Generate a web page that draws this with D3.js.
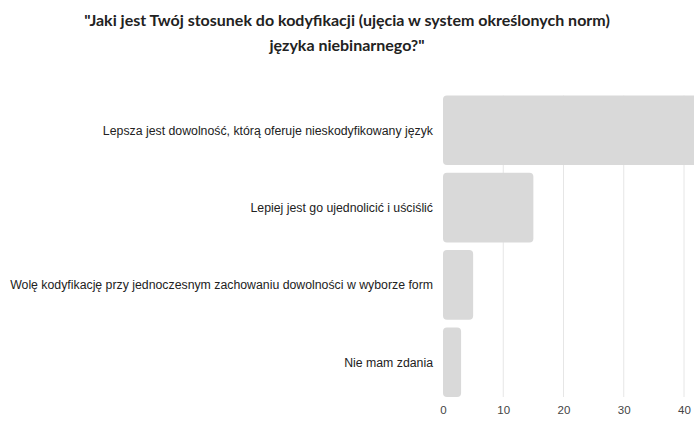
<!DOCTYPE html>
<html>
<head>
<meta charset="utf-8">
<script src="https://cdn.jsdelivr.net/npm/d3@7"></script>
<style>
  body { margin: 0; background: #fff; }
  svg { display: block; }
</style>
</head>
<body>
<div id="chart"></div>
<script>
const titleLines = ['"Jaki jest Twój stosunek do kodyfikacji (ujęcia w system określonych norm)', 'języka niebinarnego?"'];
const categories = [
  'Lepsza jest dowolność, którą oferuje nieskodyfikowany język',
  'Lepiej jest go ujednolicić i uściślić',
  'Wolę kodyfikację przy jednoczesnym zachowaniu dowolności w wyborze form',
  'Nie mam zdania'
];
const values = [45, 15, 5, 3];
const tickValues = [0, 10, 20, 30, 40];

const width = 694,
height = 426,
margin = { top: 95.5, left: 443, bottom: 29 };

const svg = d3.select('#chart').
append('svg').
attr('width', width).
attr('height', height);

svg.append('text').
attr('x', 347).
attr('text-anchor', 'middle').
style('font-family', 'Lato, sans-serif').
style('font-weight', 700).
style('font-size', '16px').
attr('fill', '#222').
selectAll('tspan').
data(titleLines).
enter().
append('tspan').
attr('x', 347).
attr('y', (d, i) => 26 + i * 24.5).
text(d => d);

const x = d3.scaleLinear().
domain([0, 40]).
range([margin.left, 684]);

const y = d3.scaleBand().
domain(categories).
range([margin.top, height - margin.bottom]).
paddingInner(0.1).
paddingOuter(0);

// gridlines
svg.append('g').
selectAll('line').
data(tickValues.slice(1)).
enter().
append('line').
attr('x1', d => x(d)).
attr('x2', d => x(d)).
attr('y1', y.range()[0]).
attr('y2', y.range()[1]).
attr('stroke', '#e6e6e6').
attr('stroke-width', 1);

svg.append('g').
selectAll('rect').
data(values).
enter().
append('rect').
attr('x', x(0)).
attr('y', (d, i) => y(categories[i])).
attr('width', d => x(d) - x(0)).
attr('height', y.bandwidth()).
attr('rx', 4).
attr('fill', '#d9d9d9');

// category labels
svg.append('g').
selectAll('text').
data(categories).
enter().
append('text').
attr('x', 433).
attr('y', d => y(d) + y.bandwidth() / 2).
attr('dy', '0.35em').
attr('text-anchor', 'end').
style('font-family', '"Liberation Sans", Arial, sans-serif').
style('font-size', '12.3px').
attr('fill', '#222').
text(d => d);

// x axis labels
const axis = svg.append('g').
attr('transform', `translate(0,${y.range()[1]})`).
call(d3.axisBottom(x).tickValues(tickValues).tickSize(0).tickPadding(9));
axis.select('.domain').remove();
axis.selectAll('text').
style('font-family', '"Liberation Sans", Arial, sans-serif').
style('font-size', '11.5px').
attr('fill', '#444');
</script>
</body>
</html>
